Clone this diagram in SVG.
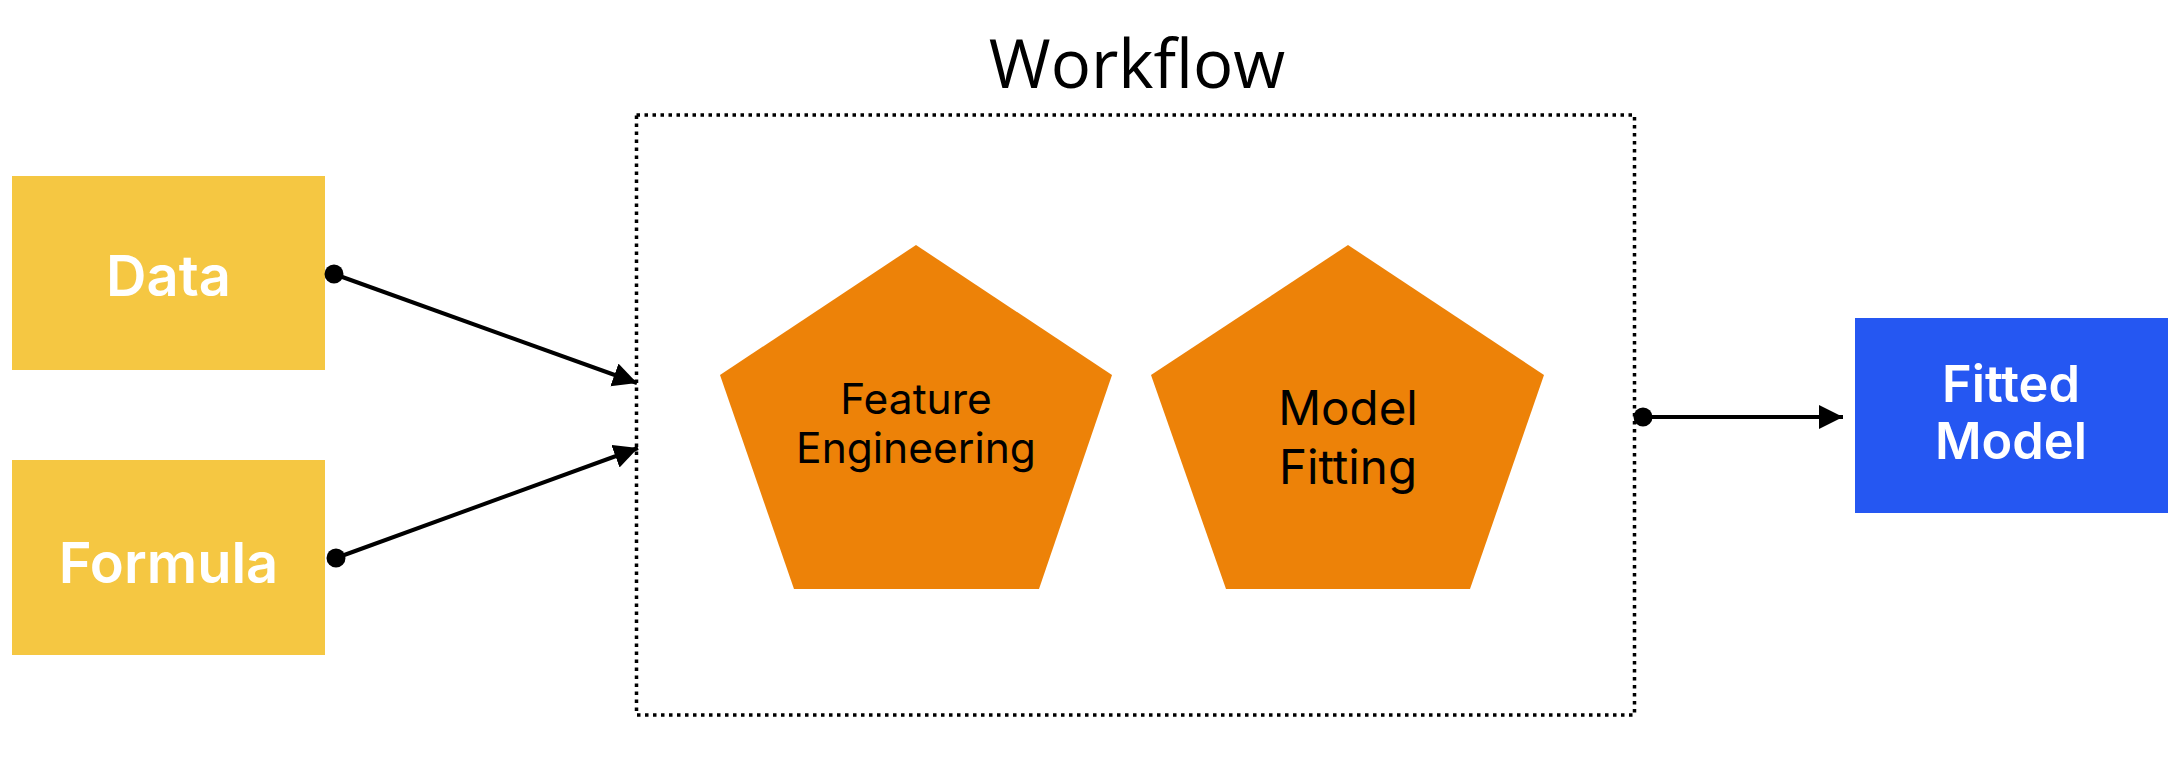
<svg xmlns="http://www.w3.org/2000/svg" width="2184" height="778" viewBox="0 0 2184 778">
<style>
.yellow{fill:#F5C742}
.orange{fill:#ED8208}
.blue{fill:#2557F2}
.lbl{font-family:Inter,"Liberation Sans",sans-serif;font-weight:600;fill:#FFFFFF;text-anchor:middle}
.inner{font-family:Inter,"Liberation Sans",sans-serif;font-weight:400;fill:#000000;text-anchor:middle}
.conn{stroke:#000;stroke-width:4;fill:none}
</style>
<defs>
<marker id="arrow" markerUnits="userSpaceOnUse" markerWidth="26" markerHeight="26" refX="24" refY="12" orient="auto" viewBox="0 0 26 26">
<path d="M0,0 L24,12 L0,24 z" fill="#000"/>
</marker>
<marker id="dot" markerUnits="userSpaceOnUse" markerWidth="20" markerHeight="20" refX="10" refY="10" viewBox="0 0 20 20">
<circle cx="10" cy="10" r="9.5" fill="#000"/>
</marker>
</defs>
<rect width="2184" height="778" fill="#FFFFFF"/>
<g id="workflow">
<rect x="636.5" y="115" width="998" height="600" fill="none" stroke="#000" stroke-width="3.5" stroke-dasharray="3.5 4.5"/>
<text x="1137" y="88" font-family="'Open Sans','Noto Sans',sans-serif" font-size="67" fill="#000" text-anchor="middle">Workflow</text>
</g>
<g id="data">
<rect class="yellow" x="12" y="176" width="313" height="194"/>
<text class="lbl" x="168.5" y="296" font-size="56">Data</text>
</g>
<g id="formula">
<rect class="yellow" x="12" y="460" width="313" height="195"/>
<text class="lbl" x="168.5" y="583" font-size="56">Formula</text>
</g>
<g id="feature-engineering">
<polygon class="orange" points="916,245 1112,375 1039,589 794,589 720,375"/>
<text class="inner" x="916" y="414" font-size="42.5">Feature</text>
<text class="inner" x="916" y="463" font-size="42.5">Engineering</text>
</g>
<g id="model-fitting">
<polygon class="orange" points="1348,245 1544,375 1470,589 1226,589 1151,375"/>
<text class="inner" x="1348" y="425" font-size="47.5">Model</text>
<text class="inner" x="1348" y="484" font-size="47.5">Fitting</text>
</g>
<g id="fitted-model">
<rect class="blue" x="1855" y="318" width="313" height="195"/>
<text class="lbl" x="2011" y="402" font-size="50.5">Fitted</text>
<text class="lbl" x="2011" y="459" font-size="50.5">Model</text>
</g>
<g id="connectors">
<line class="conn" x1="334" y1="274" x2="637" y2="383" marker-start="url(#dot)" marker-end="url(#arrow)"/>
<line class="conn" x1="336" y1="558" x2="638" y2="448" marker-start="url(#dot)" marker-end="url(#arrow)"/>
<line class="conn" x1="1643" y1="417" x2="1843" y2="417" marker-start="url(#dot)" marker-end="url(#arrow)"/>
</g>
</svg>
